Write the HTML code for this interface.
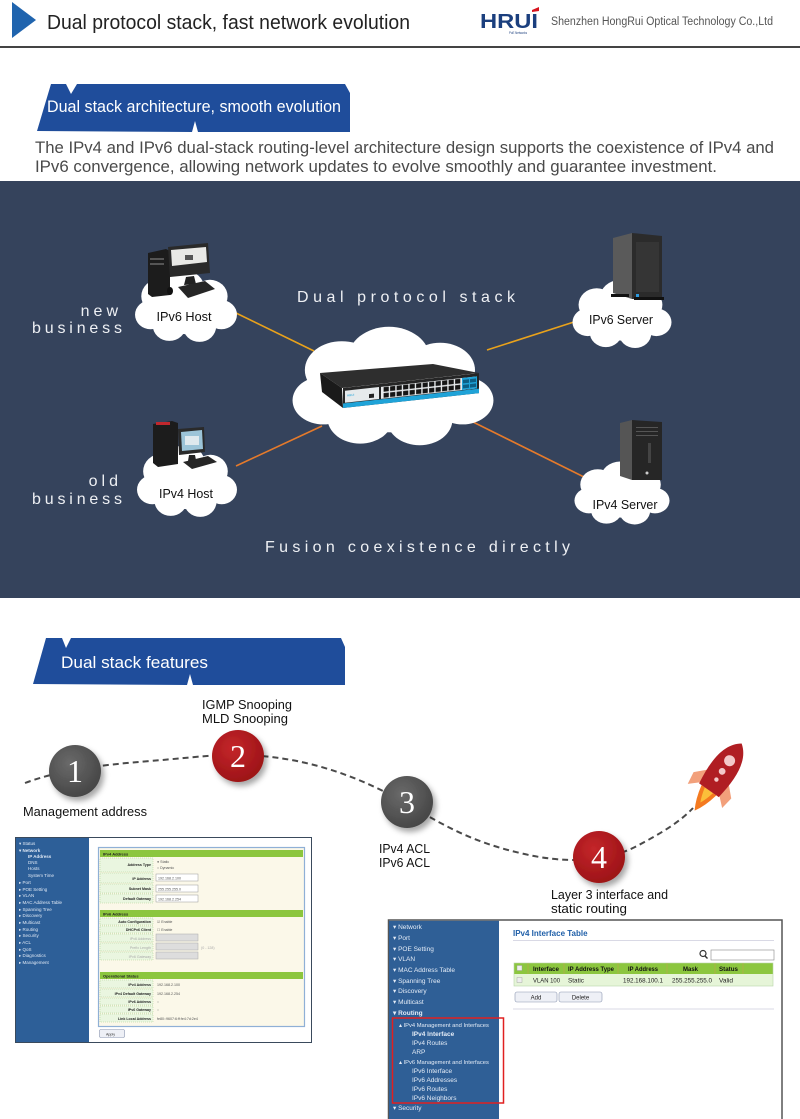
<!DOCTYPE html>
<html><head><meta charset="utf-8"><style>
html,body{margin:0;padding:0;background:#fff;}
svg{display:block;}
text{font-family:"Liberation Sans",sans-serif;}
</style></head><body>
<svg width="800" height="1119" viewBox="0 0 800 1119" xmlns="http://www.w3.org/2000/svg">
<defs>
 <g id="cloud">
  <circle cx="-25" cy="-10" r="18"/>
  <circle cx="-2" cy="-17" r="20"/>
  <circle cx="23" cy="-10" r="17"/>
  <circle cx="-34" cy="9" r="15"/>
  <circle cx="34" cy="9" r="15"/>
  <circle cx="-16" cy="20" r="16"/>
  <circle cx="13" cy="21" r="16"/>
  <circle cx="0" cy="2" r="27"/>
 </g>
 <filter id="sh" x="-50%" y="-50%" width="200%" height="200%"><feDropShadow dx="3" dy="4" stdDeviation="3" flood-color="#000" flood-opacity="0.35"/></filter>
 <radialGradient id="gg" cx="40%" cy="35%" r="70%"><stop offset="0" stop-color="#6a6a6a"/><stop offset="1" stop-color="#444"/></radialGradient>
 <radialGradient id="rg" cx="40%" cy="35%" r="70%"><stop offset="0" stop-color="#c4262a"/><stop offset="1" stop-color="#9a1216"/></radialGradient>
 <pattern id="ports" x="40" y="3" width="6.5" height="6" patternUnits="userSpaceOnUse"><rect x="0.6" y="0.6" width="5.2" height="4.6" fill="#151515"/></pattern>
</defs>

<!-- HEADER -->
<rect x="0" y="0" width="800" height="1119" fill="#fff"/>
<polygon points="12,2 36,20 12,38" fill="#2064ae"/>
<text x="47" y="29" font-size="20" fill="#222" textLength="363" lengthAdjust="spacingAndGlyphs">Dual protocol stack, fast network evolution</text>
<text x="480" y="28" font-size="20" font-weight="bold" fill="#1b3f7e" textLength="58" lengthAdjust="spacingAndGlyphs">HRUI</text>
<polygon points="532,10 539,7 539,11 532,12" fill="#d7141e"/>
<text x="509" y="34" font-size="3.5" fill="#1b3f7e" textLength="18" lengthAdjust="spacingAndGlyphs">PoE Networks</text>
<text x="551" y="25" font-size="11.5" fill="#555" textLength="222" lengthAdjust="spacingAndGlyphs">Shenzhen HongRui Optical Technology Co.,Ltd</text>
<rect x="0" y="46" width="800" height="2" fill="#444"/>

<!-- BANNER 1 -->
<polygon points="51,84 66,84 71,94 77,84 345,84 350,93 350,132 198,132 195,121 192,132 37,131" fill="#1f4d9b"/>
<text x="47" y="112" font-size="16.5" fill="#fff" textLength="294" lengthAdjust="spacingAndGlyphs">Dual stack architecture, smooth evolution</text>
<text x="35" y="153" font-size="16.5" fill="#4a4a4a" textLength="739" lengthAdjust="spacingAndGlyphs">The IPv4 and IPv6 dual-stack routing-level architecture design supports the coexistence of IPv4 and</text>
<text x="35" y="172" font-size="16.5" fill="#4a4a4a" textLength="682" lengthAdjust="spacingAndGlyphs">IPv6 convergence, allowing network updates to evolve smoothly and guarantee investment.</text>

<!-- DARK PANEL -->
<rect x="0" y="181" width="800" height="417" fill="#35435c"/>
<line x1="236" y1="313" x2="314" y2="351" stroke="#e9a21b" stroke-width="1.6"/>
<line x1="577" y1="321" x2="487" y2="350" stroke="#e9a21b" stroke-width="1.6"/>
<line x1="236" y1="466" x2="322" y2="426" stroke="#e57a2b" stroke-width="1.6"/>
<line x1="467" y1="419" x2="584" y2="477" stroke="#e57a2b" stroke-width="1.6"/>

<text x="297" y="302" font-size="16" fill="#eef0f4" textLength="218" lengthAdjust="spacing">Dual protocol stack</text>
<text x="122" y="316" font-size="16" fill="#eef0f4" text-anchor="end" letter-spacing="4">new</text>
<text x="32" y="333" font-size="16" fill="#eef0f4" textLength="90" lengthAdjust="spacing">business</text>
<text x="122" y="486" font-size="16" fill="#eef0f4" text-anchor="end" letter-spacing="4">old</text>
<text x="32" y="504" font-size="16" fill="#eef0f4" textLength="90" lengthAdjust="spacing">business</text>
<text x="265" y="552" font-size="16" fill="#eef0f4" textLength="305" lengthAdjust="spacing">Fusion coexistence directly</text>

<!-- clouds -->
<use href="#cloud" fill="#fff" transform="translate(186,306) scale(1.04,0.97)"/>
<use href="#cloud" fill="#fff" transform="translate(622,314) scale(1.01,0.92)"/>
<use href="#cloud" fill="#fff" transform="translate(187,481) scale(1.02,0.97)"/>
<use href="#cloud" fill="#fff" transform="translate(622,493) scale(0.97,0.85)"/>
<use href="#cloud" fill="#fff" transform="translate(393,386) scale(2.05,1.6)"/>

<!-- IPv6 Host PC -->
<polygon points="148,253 166,249 170,251 170,295 152,297 148,294" fill="#1c1c1c"/>
<rect x="150" y="258" width="14" height="2" fill="#555"/>
<rect x="150" y="263" width="14" height="2" fill="#555"/>
<polygon points="168,247 208,243 210,273 170,277" fill="#2a2a2a"/>
<polygon points="171,250 206,247 207,262 172,266" fill="#e9e9e6"/>
<rect x="185" y="255" width="8" height="5" fill="#555"/>
<polygon points="186,277 194,276 196,284 184,285" fill="#222"/>
<polygon points="178,287 205,281 215,289 188,298" fill="#262626"/>
<ellipse cx="170" cy="291" rx="3" ry="4" fill="#111"/>

<!-- IPv4 Host PC -->
<polygon points="153,424 172,421 178,423 178,464 158,467 153,463" fill="#1c1c1c"/>
<rect x="156" y="422" width="14" height="3" fill="#c0272d"/>
<polygon points="178,429 204,427 205,452 179,455" fill="#2a2a2a"/>
<polygon points="181,432 202,430 203,449 182,451" fill="#9cc4d8"/>
<rect x="185" y="436" width="14" height="9" fill="#dfe9ee"/>
<polygon points="189,455 195,455 196,460 188,461" fill="#222"/>
<polygon points="183,462 208,456 217,462 192,469" fill="#262626"/>

<!-- IPv6 Server -->
<polygon points="613,238 632,233 632,299 613,293" fill="#5a5a5a"/>
<polygon points="632,233 662,236 662,298 632,299" fill="#2b2b2b"/>
<rect x="636" y="242" width="23" height="50" fill="#353535"/>
<rect x="611" y="294" width="18" height="3" fill="#111"/>
<rect x="634" y="297" width="30" height="3" fill="#111"/>
<rect x="636" y="294" width="3" height="3" fill="#2d9be0"/>

<!-- IPv4 Server -->
<polygon points="620,423 632,420 632,480 620,476" fill="#555"/>
<polygon points="632,420 662,422 662,480 632,480" fill="#262626"/>
<rect x="636" y="427" width="22" height="1" fill="#555"/>
<rect x="636" y="431" width="22" height="1" fill="#555"/>
<rect x="636" y="435" width="22" height="1" fill="#555"/>
<rect x="648" y="443" width="3" height="20" fill="#444"/>
<circle cx="647" cy="473" r="1.5" fill="#ccc"/>

<!-- Switch -->
<polygon points="320,373 433,364 479,373 342,388" fill="#2e2e2e"/>
<polygon points="320,373 342,388 343,408 322,392" fill="#1a1a1a"/>
<g transform="translate(343,388) skewY(-6.25)">
 <rect x="0" y="0" width="136" height="20" fill="#252525"/>
 <rect x="2" y="3" width="34" height="12" fill="#e6eaec"/>
 <rect x="38" y="3" width="96" height="12" fill="#e9ecee"/>
 <rect x="40" y="3" width="78" height="12" fill="url(#ports)"/>
 <rect x="119" y="3" width="15" height="12" fill="#1fa3d8"/>
 <rect x="120" y="5" width="6" height="3.5" fill="#0d5f85"/>
 <rect x="127" y="5" width="6" height="3.5" fill="#0d5f85"/>
 <rect x="120" y="10" width="6" height="3.5" fill="#0d5f85"/>
 <rect x="127" y="10" width="6" height="3.5" fill="#0d5f85"/>
 <rect x="0" y="15.5" width="136" height="4.5" fill="#1fa3d8"/>
 <rect x="26" y="9" width="5" height="4" fill="#222"/>
 <text x="4" y="9" font-size="3" fill="#1fa3d8">HRUI</text>
</g>

<text x="184" y="321" font-size="12.5" fill="#111" text-anchor="middle" textLength="55" lengthAdjust="spacingAndGlyphs">IPv6 Host</text>
<text x="621" y="324" font-size="12.5" fill="#111" text-anchor="middle" textLength="64" lengthAdjust="spacingAndGlyphs">IPv6 Server</text>
<text x="186" y="498" font-size="12.5" fill="#111" text-anchor="middle" textLength="54" lengthAdjust="spacingAndGlyphs">IPv4 Host</text>
<text x="625" y="509" font-size="12.5" fill="#111" text-anchor="middle" textLength="65" lengthAdjust="spacingAndGlyphs">IPv4 Server</text>

<!-- BANNER 2 -->
<polygon points="46,638 62,638 66,648 71,638 341,638 345,647 345,685 193,685 190,674 187,685 33,684" fill="#1f4d9b"/>
<text x="61" y="668" font-size="17" fill="#fff" textLength="147" lengthAdjust="spacingAndGlyphs">Dual stack features</text>

<!-- dashed path -->
<path d="M 25 783 C 60 770, 100 765, 150 761 S 215 754, 245 755 C 300 757, 345 772, 385 792 C 425 812, 455 838, 520 853 C 565 864, 605 862, 635 847 C 660 834, 680 822, 693 808" fill="none" stroke="#4a4a4a" stroke-width="2" stroke-dasharray="6,4"/>

<g filter="url(#sh)">
<circle cx="75" cy="771" r="26" fill="url(#gg)"/>
<circle cx="238" cy="756" r="26" fill="url(#rg)"/>
<circle cx="407" cy="802" r="26" fill="url(#gg)"/>
<circle cx="599" cy="857" r="26" fill="url(#rg)"/>
</g>
<g font-size="32" fill="#fff" text-anchor="middle">
<text x="75" y="782" style="font-family:'Liberation Serif',serif">1</text>
<text x="238" y="767" style="font-family:'Liberation Serif',serif">2</text>
<text x="407" y="813" style="font-family:'Liberation Serif',serif">3</text>
<text x="599" y="868" style="font-family:'Liberation Serif',serif">4</text>
</g>

<g font-size="13" fill="#111">
<text x="202" y="709" textLength="90" lengthAdjust="spacingAndGlyphs">IGMP Snooping</text>
<text x="202" y="723" textLength="86" lengthAdjust="spacingAndGlyphs">MLD Snooping</text>
<text x="23" y="816" textLength="124" lengthAdjust="spacingAndGlyphs">Management address</text>
<text x="379" y="853" textLength="51" lengthAdjust="spacingAndGlyphs">IPv4 ACL</text>
<text x="379" y="867" textLength="51" lengthAdjust="spacingAndGlyphs">IPv6 ACL</text>
<text x="551" y="899" textLength="117" lengthAdjust="spacingAndGlyphs">Layer 3 interface and</text>
<text x="551" y="913" textLength="76" lengthAdjust="spacingAndGlyphs">static routing</text>
</g>

<!-- Rocket -->
<g transform="translate(721,773) rotate(35)">
 <path d="M-12,4 L-23,15 L-21,28 L-10,18 Z" fill="#f2a07b"/>
 <path d="M12,4 L23,15 L21,28 L10,18 Z" fill="#f2a07b"/>
 <path d="M-9,21 Q-6,36 0,46 Q6,36 9,21 Z" fill="#f47a20"/>
 <path d="M-5,21 Q-3,30 0,36 Q3,30 5,21 Z" fill="#fbbf3a"/>
 <path d="M0,-36 C14,-26 16,-6 12,21 L-12,21 C-16,-6 -14,-26 0,-36 Z" fill="#b01e23"/>
 <circle cx="0" cy="-15" r="5.5" fill="#f3c9c9"/>
 <circle cx="0" cy="-2" r="3.4" fill="#f3c9c9"/>
 <circle cx="0" cy="8" r="2.2" fill="#f3c9c9"/>
</g>

<!-- LEFT SCREENSHOT -->
<rect x="15.5" y="837.5" width="296" height="205" fill="#fff" stroke="#3a4a5c" stroke-width="1"/>
<rect x="16" y="838" width="73" height="204" fill="#2d5f98"/>
<g font-size="4.5" fill="#dfe8f4">
<text x="19" y="845">▾ Status</text>
<text x="19" y="852" font-weight="bold">▾ Network</text>
<text x="28" y="858" font-weight="bold">IP Address</text>
<text x="28" y="864">DNS</text>
<text x="28" y="870">Hosts</text>
<text x="28" y="877">System Time</text>
<text x="19" y="884">▸ Port</text>
<text x="19" y="891">▸ POE Setting</text>
<text x="19" y="897">▸ VLAN</text>
<text x="19" y="904">▸ MAC Address Table</text>
<text x="19" y="911">▸ Spanning Tree</text>
<text x="19" y="917">▸ Discovery</text>
<text x="19" y="924">▸ Multicast</text>
<text x="19" y="931">▸ Routing</text>
<text x="19" y="937">▸ Security</text>
<text x="19" y="944">▸ ACL</text>
<text x="19" y="951">▸ QoS</text>
<text x="19" y="957">▸ Diagnostics</text>
<text x="19" y="964">▸ Management</text>
</g>
<rect x="98.5" y="847.5" width="206" height="179" fill="#fbf8e9" stroke="#8fb0d6" stroke-width="1.2"/>
<g fill="#8cc63e">
<rect x="100" y="850" width="203" height="7"/>
<rect x="100" y="910" width="203" height="7"/>
<rect x="100" y="972" width="203" height="7"/>
</g>
<g fill="#eaf6e0" stroke="#9cc47a" stroke-width="0.4" stroke-dasharray="1,1">
<rect x="100" y="858" width="53" height="14"/>
<rect x="100" y="873" width="53" height="10"/>
<rect x="100" y="884" width="53" height="9"/>
<rect x="100" y="894" width="53" height="9"/>
<rect x="100" y="918" width="53" height="7"/>
<rect x="100" y="926" width="53" height="7"/>
<rect x="100" y="934" width="53" height="8"/>
<rect x="100" y="943" width="53" height="8"/>
<rect x="100" y="952" width="53" height="8"/>
<rect x="100" y="980" width="53" height="8"/>
<rect x="100" y="989" width="53" height="8"/>
<rect x="100" y="998" width="53" height="7"/>
<rect x="100" y="1006" width="53" height="7"/>
<rect x="100" y="1014" width="53" height="8"/>
</g>
<g fill="#fff" stroke="#999" stroke-width="0.5">
<rect x="156" y="874" width="42" height="7"/>
<rect x="156" y="885" width="42" height="7"/>
<rect x="156" y="895" width="42" height="7"/>
</g>
<g fill="#ddd" stroke="#aaa" stroke-width="0.5">
<rect x="156" y="934" width="42" height="7"/>
<rect x="156" y="943" width="42" height="7"/>
<rect x="156" y="952" width="42" height="7"/>
</g>
<g font-size="4" fill="#222" font-weight="bold">
<text x="103" y="855.5">IPv4 Address</text>
<text x="103" y="915.5">IPv6 Address</text>
<text x="103" y="977.5">Operational Status</text>
</g>
<g font-size="3.6" fill="#222" font-weight="bold" text-anchor="end">
<text x="151" y="866">Address Type</text>
<text x="151" y="880">IP Address</text>
<text x="151" y="890">Subnet Mask</text>
<text x="151" y="900">Default Gateway</text>
<text x="151" y="923">Auto Configuration</text>
<text x="151" y="931">DHCPv6 Client</text>
<text x="151" y="986">IPv4 Address</text>
<text x="151" y="995">IPv4 Default Gateway</text>
<text x="151" y="1003">IPv6 Address</text>
<text x="151" y="1011">IPv6 Gateway</text>
<text x="151" y="1020">Link Local Address</text>
</g>
<g font-size="3.6" fill="#aaa" text-anchor="end">
<text x="151" y="940">IPv6 Address</text>
<text x="151" y="949">Prefix Length</text>
<text x="151" y="958">IPv6 Gateway</text>
</g>
<g font-size="3.6" fill="#555">
<text x="157" y="863">● Static</text>
<text x="157" y="869">○ Dynamic</text>
<text x="158" y="879.5">192.168.2.100</text>
<text x="158" y="890.5">255.255.255.0</text>
<text x="158" y="900.5">192.168.2.254</text>
<text x="157" y="923">☑ Enable</text>
<text x="157" y="931">☐ Enable</text>
<text x="201" y="949" fill="#aaa">(0 - 128)</text>
<text x="157" y="986">192.168.2.100</text>
<text x="157" y="995">192.168.2.254</text>
<text x="157" y="1003">::</text>
<text x="157" y="1011">::</text>
<text x="157" y="1020">fe80::9607:6:ff:fe4:7d:2e4</text>
</g>
<rect x="99.5" y="1029.5" width="25" height="8" rx="1.5" fill="#eef0f6" stroke="#8a96b0" stroke-width="0.6"/>
<text x="106" y="1035.5" font-size="3.6" fill="#333">Apply</text>

<!-- RIGHT SCREENSHOT -->
<rect x="388.5" y="920" width="393.5" height="200" fill="#fff" stroke="#555" stroke-width="1.5"/>
<rect x="389" y="920.8" width="110" height="199" fill="#2f5f96"/>
<g font-size="6.5" fill="#e4ecf7">
<text x="393" y="929">▾  Network</text>
<text x="393" y="940">▾  Port</text>
<text x="393" y="951">▾  POE Setting</text>
<text x="393" y="961">▾  VLAN</text>
<text x="393" y="972">▾  MAC Address Table</text>
<text x="393" y="983">▾  Spanning Tree</text>
<text x="393" y="993">▾  Discovery</text>
<text x="393" y="1004">▾  Multicast</text>
<text x="393" y="1015" font-weight="bold">▾  Routing</text>
<text x="399" y="1027" font-size="5.8">▴  IPv4 Management and Interfaces</text>
<text x="412" y="1036" font-weight="bold">IPv4 Interface</text>
<text x="412" y="1045">IPv4 Routes</text>
<text x="412" y="1054">ARP</text>
<text x="399" y="1064" font-size="5.8">▴  IPv6 Management and Interfaces</text>
<text x="412" y="1073">IPv6 Interface</text>
<text x="412" y="1082">IPv6 Addresses</text>
<text x="412" y="1091">IPv6 Routes</text>
<text x="412" y="1100">IPv6 Neighbors</text>
<text x="393" y="1110">▾  Security</text>
</g>
<rect x="392.5" y="1018" width="111" height="85" fill="none" stroke="#e02020" stroke-width="1.5"/>

<text x="513" y="936" font-size="8" font-weight="bold" fill="#1f5fa8">IPv4 Interface Table</text>
<line x1="513" y1="940.5" x2="774" y2="940.5" stroke="#ccd" stroke-width="0.8"/>
<circle cx="703" cy="953.5" r="3" fill="none" stroke="#333" stroke-width="1.2"/>
<line x1="705" y1="956" x2="707.5" y2="958.5" stroke="#333" stroke-width="1.4"/>
<rect x="711" y="950" width="63" height="10" fill="#fff" stroke="#888" stroke-width="0.6"/>
<rect x="514" y="963" width="259" height="11" fill="#8cc63f"/>
<rect x="514" y="974" width="259" height="12" fill="#e6f5d8"/>
<rect x="514" y="963" width="259" height="23" fill="none" stroke="#b8d6a8" stroke-width="0.6"/>
<g stroke="#c8a050" stroke-width="0.5">
<line x1="528" y1="963" x2="528" y2="974"/>
<line x1="564" y1="963" x2="564" y2="974"/>
<line x1="618" y1="963" x2="618" y2="974"/>
<line x1="667" y1="963" x2="667" y2="974"/>
<line x1="715" y1="963" x2="715" y2="974"/>
<line x1="743" y1="963" x2="743" y2="974"/>
</g>
<rect x="517" y="965.5" width="5" height="5" fill="#eee" stroke="#999" stroke-width="0.4"/>
<rect x="517" y="977.5" width="5" height="5" fill="#eee" stroke="#999" stroke-width="0.4"/>
<g font-size="6.2" font-weight="bold" fill="#111">
<text x="533" y="971" textLength="26" lengthAdjust="spacingAndGlyphs">Interface</text>
<text x="568" y="971" textLength="46" lengthAdjust="spacingAndGlyphs">IP Address Type</text>
<text x="628" y="971" textLength="30" lengthAdjust="spacingAndGlyphs">IP Address</text>
<text x="683" y="971" textLength="15" lengthAdjust="spacingAndGlyphs">Mask</text>
<text x="719" y="971" textLength="19" lengthAdjust="spacingAndGlyphs">Status</text>
</g>
<g font-size="6.2" fill="#222">
<text x="533" y="982.5" textLength="27" lengthAdjust="spacingAndGlyphs">VLAN 100</text>
<text x="568" y="982.5" textLength="16" lengthAdjust="spacingAndGlyphs">Static</text>
<text x="623" y="982.5" textLength="40" lengthAdjust="spacingAndGlyphs">192.168.100.1</text>
<text x="672" y="982.5" textLength="40" lengthAdjust="spacingAndGlyphs">255.255.255.0</text>
<text x="719" y="982.5" textLength="14" lengthAdjust="spacingAndGlyphs">Valid</text>
</g>
<rect x="515" y="992" width="42" height="10" rx="2" fill="#eef0f6" stroke="#8a96b0" stroke-width="0.6"/>
<rect x="559" y="992" width="43" height="10" rx="2" fill="#eef0f6" stroke="#8a96b0" stroke-width="0.6"/>
<text x="536" y="999.5" font-size="6" fill="#222" text-anchor="middle">Add</text>
<text x="580.5" y="999.5" font-size="6" fill="#222" text-anchor="middle">Delete</text>
<line x1="513" y1="1009" x2="774" y2="1009" stroke="#ccd" stroke-width="0.8"/>
</svg>
</body></html>
